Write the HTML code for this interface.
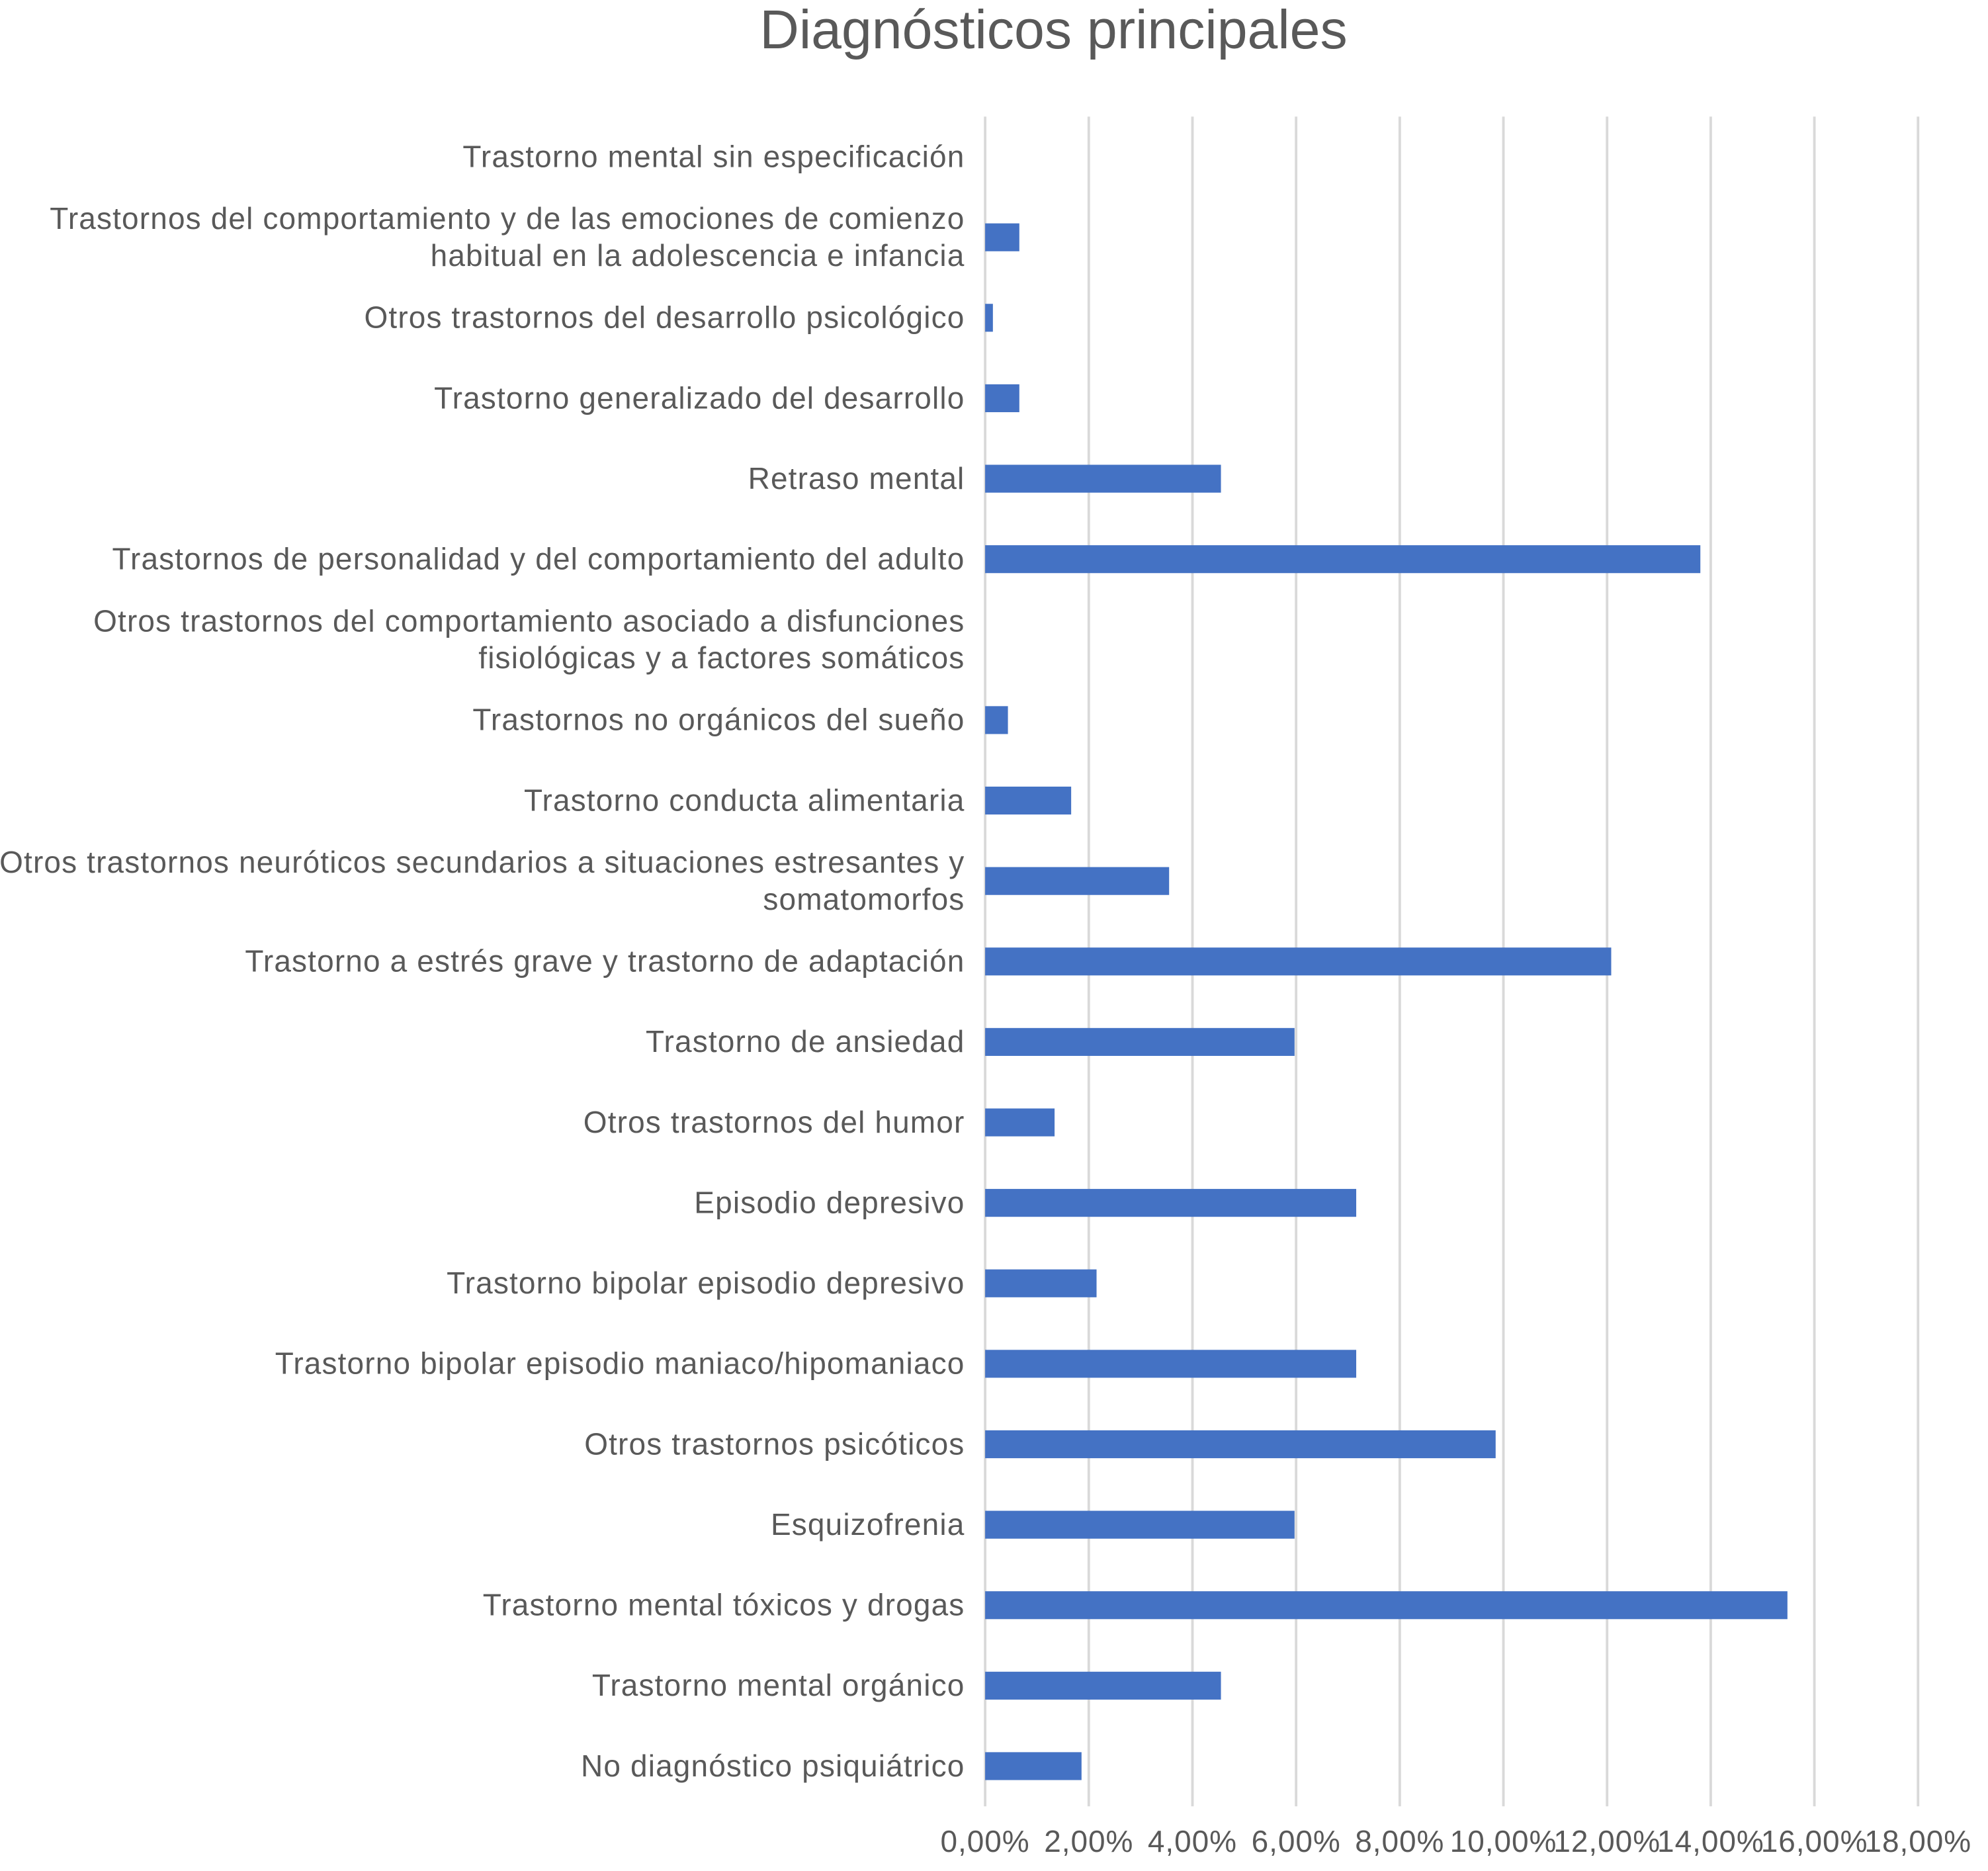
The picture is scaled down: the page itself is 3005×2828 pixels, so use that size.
<!DOCTYPE html>
<html><head><meta charset="utf-8">
<style>
html,body{margin:0;padding:0;background:#fff;}
svg{display:block;}
text{font-family:"Liberation Sans",Arial,sans-serif;fill:#595959;}
</style></head>
<body>
<svg id="chart" width="3005" height="2828" viewBox="0 0 1568 1476" xmlns="http://www.w3.org/2000/svg">
<text x="831" y="38" font-size="43" text-anchor="middle">Diagnósticos principales</text>
<g id="grid"></g>
<g id="bars"></g>
<g id="ylabels"></g>
<g id="xlabels"></g>
</svg>
<script>
const categories = [
 ["Trastorno mental sin especificación"],
 ["Trastornos del comportamiento y de las emociones de comienzo","habitual en la adolescencia e infancia"],
 ["Otros trastornos del desarrollo psicológico"],
 ["Trastorno generalizado del desarrollo"],
 ["Retraso mental"],
 ["Trastornos de personalidad y del comportamiento del adulto"],
 ["Otros trastornos del comportamiento asociado a disfunciones","fisiológicas y a factores somáticos"],
 ["Trastornos no orgánicos del sueño"],
 ["Trastorno conducta alimentaria"],
 ["Otros trastornos neuróticos secundarios a situaciones estresantes y","somatomorfos"],
 ["Trastorno a estrés grave y trastorno de adaptación"],
 ["Trastorno de ansiedad"],
 ["Otros trastornos del humor"],
 ["Episodio depresivo"],
 ["Trastorno bipolar episodio depresivo"],
 ["Trastorno bipolar episodio maniaco/hipomaniaco"],
 ["Otros trastornos psicóticos"],
 ["Esquizofrenia"],
 ["Trastorno mental tóxicos y drogas"],
 ["Trastorno mental orgánico"],
 ["No diagnóstico psiquiátrico"]
];
const values = [0,0.66,0.15,0.66,4.55,13.8,0,0.44,1.66,3.55,12.08,5.97,1.34,7.16,2.15,7.16,9.85,5.97,15.48,4.55,1.86];
const ticks = [0,2,4,6,8,10,12,14,16,18];
const tickLabels = ["0,00%","2,00%","4,00%","6,00%","8,00%","10,00%","12,00%","14,00%","16,00%","18,00%"];

const NS="http://www.w3.org/2000/svg";
const x0=777, x1=1513, xmax=18, plotTop=92, plotBottom=1425;
const xs=v=>x0+(x1-x0)*v/xmax;
const step=(plotBottom-plotTop)/categories.length;
const yc=i=>plotTop+step*(i+0.5);
function mk(tag,attrs,parent){const e=document.createElementNS(NS,tag);for(const k in attrs)e.setAttribute(k,attrs[k]);document.getElementById(parent).appendChild(e);return e;}

ticks.forEach((t,i)=>{
 const l=mk("line",{x1:xs(t),x2:xs(t),y1:plotTop,y2:plotBottom,stroke:"#d9d9d9","stroke-width":2},"grid");
 
 
 const tx=mk("text",{x:xs(t),y:1461,"font-size":24,"letter-spacing":0.5,"text-anchor":"middle"},"xlabels");
 tx.textContent=tickLabels[i];
 
 
});
values.forEach((v,i)=>{
 const r=mk("rect",{x:x0,y:yc(i)-11,width:Math.max(0,xs(v)-x0),height:22,fill:"#4472c4"},"bars");
 
 
});
categories.forEach((lines,i)=>{
 const n=lines.length;
 lines.forEach((s,j)=>{
  const t=mk("text",{x:761,y:yc(i)+8+(j-(n-1)/2)*29,"font-size":24,"letter-spacing":0.6,"text-anchor":"end"},"ylabels");
  t.textContent=s;
  
  
 });
});
</script>
</body></html>
